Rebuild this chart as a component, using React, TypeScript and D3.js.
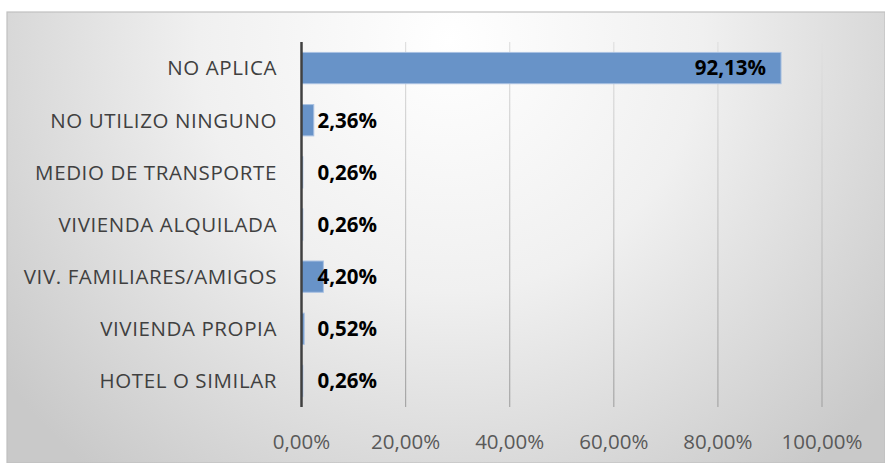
import React, { useEffect, useRef } from 'react';
import * as d3 from 'd3';

const categories = [
  'NO APLICA',
  'NO UTILIZO NINGUNO',
  'MEDIO DE TRANSPORTE',
  'VIVIENDA ALQUILADA',
  'VIV. FAMILIARES/AMIGOS',
  'VIVIENDA PROPIA',
  'HOTEL O SIMILAR',
];
const values = [92.13, 2.36, 0.26, 0.26, 4.2, 0.52, 0.26];
const ticks = [0, 20, 40, 60, 80, 100];

const W = 885;
const H = 463;
const FONT = '"Open Sans", Lato, sans-serif';

const fmt = (v: number) => v.toFixed(2).replace('.', ',') + '%';

const App = () => {
  const svgRef = useRef<SVGSVGElement>(null);

  useEffect(() => {
    const svg = d3.select(svgRef.current).attr('width', W).attr('height', H);
    svg.selectAll('*').remove();

    const margin = { top: 42, right: 63, bottom: 56, left: 301.5 };
    const defs = svg.append('defs');

    const bg = defs.append('radialGradient')
      .attr('id', 'bg')
      .attr('gradientUnits', 'userSpaceOnUse')
      .attr('cx', 450).attr('cy', 40).attr('r', 560);
    bg.append('stop').attr('offset', '0%').attr('stop-color', '#ffffff');
    bg.append('stop').attr('offset', '45%').attr('stop-color', '#f0f0f0');
    bg.append('stop').attr('offset', '100%').attr('stop-color', '#c9c9c9');

    const grid = defs.append('linearGradient')
      .attr('id', 'grid')
      .attr('gradientUnits', 'userSpaceOnUse')
      .attr('x1', 0).attr('y1', margin.top).attr('x2', 0).attr('y2', H - margin.bottom);
    grid.append('stop').attr('offset', '0%').attr('stop-color', '#e0e0e0');
    grid.append('stop').attr('offset', '100%').attr('stop-color', '#a6a6a6');

    svg.append('rect')
      .attr('x', 7).attr('y', 12)
      .attr('width', W - 7).attr('height', H - 12)
      .attr('fill', 'url(#bg)')
      .attr('stroke', '#c0c0c0')
      .attr('stroke-width', 1.2);

    const x = d3.scaleLinear()
      .domain([0, 100])
      .range([margin.left, W - margin.right]);

    const y = d3.scaleBand()
      .domain(categories)
      .range([margin.top, H - margin.bottom])
      .paddingInner(0.4)
      .paddingOuter(0.2);

    svg.append('g')
      .selectAll('line')
      .data(ticks.slice(1))
      .enter().append('line')
      .attr('x1', d => x(d)).attr('x2', d => x(d))
      .attr('y1', margin.top).attr('y2', H - margin.bottom)
      .attr('stroke', 'url(#grid)')
      .attr('stroke-width', 1.2);

    svg.append('g')
      .selectAll('rect')
      .data(values)
      .enter().append('rect')
      .attr('x', x(0))
      .attr('y', (d, i) => y(categories[i])!)
      .attr('width', d => x(d) - x(0))
      .attr('height', y.bandwidth())
      .attr('fill', '#6893c8')
      .attr('stroke', '#a9c1e2')
      .attr('stroke-width', 1);

    svg.append('line')
      .attr('x1', x(0)).attr('x2', x(0))
      .attr('y1', margin.top).attr('y2', H - margin.bottom)
      .attr('stroke', '#404040')
      .attr('stroke-width', 2.5);

    svg.append('g')
      .selectAll('text')
      .data(categories)
      .enter().append('text')
      .attr('x', 277)
      .attr('y', d => y(d)! + y.bandwidth() / 2)
      .attr('dy', '0.36em')
      .attr('text-anchor', 'end')
      .attr('fill', '#404040')
      .attr('font-family', FONT)
      .attr('font-size', 20.5)
      .attr('letter-spacing', 0.6)
      .text(d => d);

    svg.append('g')
      .selectAll('text')
      .data(values)
      .enter().append('text')
      .attr('x', d => (d > 50 ? x(d) - 15 : x(0) + 16))
      .attr('y', (d, i) => y(categories[i])! + y.bandwidth() / 2)
      .attr('dy', '0.36em')
      .attr('text-anchor', d => (d > 50 ? 'end' : 'start'))
      .attr('fill', '#000000')
      .attr('font-family', FONT)
      .attr('font-weight', 'bold')
      .attr('font-size', 20.5)
      .text(d => fmt(d));

    svg.append('g')
      .selectAll('text')
      .data(ticks)
      .enter().append('text')
      .attr('x', d => x(d))
      .attr('y', 442)
      .attr('dy', '0.36em')
      .attr('text-anchor', 'middle')
      .attr('fill', '#595959')
      .attr('font-family', FONT)
      .attr('font-size', 20.5)
      .text(d => fmt(d));
  }, []);

  return (
    <div style={{ position: 'absolute', left: 0, top: 0 }}>
      <svg ref={svgRef}></svg>
    </div>
  );
};

export default App;
